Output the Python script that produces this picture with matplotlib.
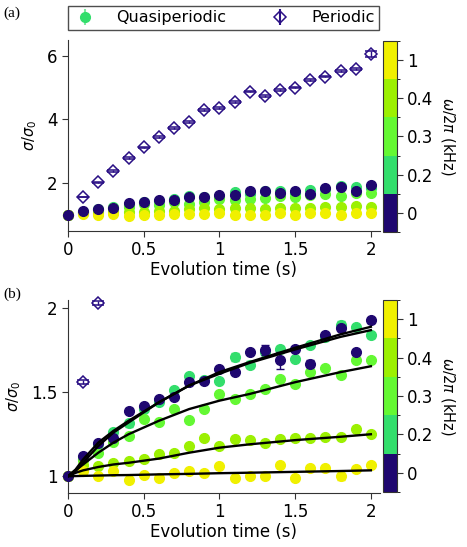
import numpy as np
import matplotlib
matplotlib.use('Agg')
import matplotlib.pyplot as plt
from matplotlib.colors import ListedColormap, BoundaryNorm
from matplotlib.cm import ScalarMappable

plt.rcParams['font.family'] = 'DejaVu Sans'
plt.rcParams['font.size'] = 12
plt.rcParams['mathtext.fontset'] = 'dejavusans'

# evolution times (s)
t = [0.0, 0.1, 0.2, 0.3, 0.4, 0.5, 0.6, 0.7, 0.8, 0.9, 1.0,
     1.1, 1.2, 1.3, 1.4, 1.5, 1.6, 1.7, 1.8, 1.9, 2.0]

# quasiperiodic drive, sigma/sigma0 for each omega/2pi (kHz)
omega_labels = ['0', '0.2', '0.3', '0.4', '1']
colors = ['#1f0770', '#33de6c', '#64f833', '#9cf002', '#f0f000']

sig_w0 = [1.0, 1.12, 1.195, 1.23, 1.39, 1.42, 1.46, 1.47, 1.56, 1.565, 1.64,
          1.62, 1.74, 1.75, 1.69, 1.755, 1.67, 1.84, 1.88, 1.74, 1.93]
sig_w02 = [1.0, 1.10, 1.19, 1.264, 1.314, 1.40, 1.44, 1.512, 1.595, 1.571, 1.57,
           1.71, 1.665, 1.74, 1.755, 1.70, 1.78, 1.83, 1.90, 1.89, 1.84]
sig_w03 = [1.0, 1.095, 1.141, 1.204, 1.24, 1.343, 1.32, 1.40, 1.333, 1.40, 1.49,
           1.46, 1.49, 1.52, 1.58, 1.55, 1.62, 1.645, 1.60, 1.69, 1.69]
sig_w04 = [1.0, 1.065, 1.061, 1.081, 1.089, 1.101, 1.131, 1.139, 1.18, 1.23, 1.178,
           1.22, 1.214, 1.195, 1.22, 1.228, 1.225, 1.235, 1.235, 1.284, 1.25]
sig_w1 = [1.0, 1.03, 1.0, 1.03, 0.976, 1.01, 0.99, 1.02, 1.03, 1.02, 1.06,
          0.99, 1.0, 1.0, 1.068, 0.99, 1.05, 1.05, 1.0, 1.045, 1.068]

err_w0 = [0.005, 0.01, 0.01, 0.01, 0.015, 0.01, 0.01, 0.01, 0.01, 0.01, 0.01,
          0.01, 0.01, 0.03, 0.05, 0.01, 0.02, 0.01, 0.015, 0.01, 0.015]
err_w02 = [0.005, 0.01, 0.01, 0.01, 0.02, 0.01, 0.01, 0.015, 0.01, 0.01, 0.01,
           0.025, 0.02, 0.01, 0.02, 0.01, 0.01, 0.01, 0.025, 0.01, 0.015]
err_w03 = [0.005] * 21
err_w04 = [0.005] * 21
err_w1 = [0.005] * 21
err_w1[18] = 0.02

# periodic drive
t_per = [0.1, 0.2, 0.3, 0.4, 0.5, 0.6, 0.7, 0.8, 0.9, 1.0,
         1.1, 1.2, 1.3, 1.4, 1.5, 1.6, 1.7, 1.8, 1.9, 2.0]
sig_per = [1.56, 2.03, 2.38, 2.79, 3.13, 3.45, 3.73, 3.92, 4.30, 4.36,
           4.55, 4.87, 4.74, 4.93, 5.0, 5.24, 5.34, 5.52, 5.59, 6.06]
err_per = [0.012, 0.012, 0.02, 0.02, 0.02, 0.02, 0.02, 0.02, 0.02, 0.02,
           0.02, 0.02, 0.02, 0.02, 0.02, 0.02, 0.02, 0.02, 0.02, 0.1]

# fit curves
t_fit = [0.0, 0.05, 0.1, 0.2, 0.3, 0.4, 0.6, 0.8, 1.0, 1.2, 1.5, 1.8, 2.0]
fit_w0 = [1.0, 1.04, 1.10, 1.20, 1.27, 1.33, 1.44, 1.54, 1.62, 1.68, 1.765, 1.845, 1.89]
fit_w02 = [1.0, 1.03, 1.08, 1.18, 1.26, 1.32, 1.44, 1.54, 1.61, 1.675, 1.755, 1.83, 1.87]
fit_w03 = [1.0, 1.035, 1.07, 1.14, 1.20, 1.25, 1.33, 1.40, 1.45, 1.49, 1.56, 1.62, 1.655]
fit_w04 = [1.0, 1.02, 1.035, 1.055, 1.07, 1.08, 1.105, 1.14, 1.17, 1.19, 1.215, 1.235, 1.25]
fit_w1 = [1.0, 1.001, 1.002, 1.004, 1.006, 1.007, 1.011, 1.014, 1.018, 1.021, 1.026, 1.031, 1.035]

quasi = [sig_w0, sig_w02, sig_w03, sig_w04, sig_w1]
quasi_err = [err_w0, err_w02, err_w03, err_w04, err_w1]
fits = [fit_w0, fit_w02, fit_w03, fit_w04, fit_w1]
draw_order = [1, 2, 3, 4, 0]
per_color = '#2a0f85'

fig = plt.figure(figsize=(4.67, 5.47), dpi=100)
ax_a = fig.add_axes([0.1456, 0.578, 0.668, 0.349])
ax_b = fig.add_axes([0.1456, 0.0987, 0.668, 0.353])
cax_a = fig.add_axes([0.820, 0.576, 0.030, 0.349])
cax_b = fig.add_axes([0.820, 0.1005, 0.030, 0.351])

cmap = ListedColormap(colors)
norm = BoundaryNorm(np.arange(-0.5, 5.5, 1), cmap.N)


def draw_panel(ax, with_fits, ymax):
    for k, i in enumerate(draw_order):
        ax.errorbar(t, quasi[i], yerr=quasi_err[i], fmt='o', ms=7, color=colors[i],
                    ecolor=colors[i], elinewidth=1, capsize=3, zorder=2 + k, clip_on=False)
    # only the periodic points inside the y range are shown
    keep = np.array(sig_per) <= ymax
    ax.errorbar(np.array(t_per)[keep], np.array(sig_per)[keep], yerr=np.array(err_per)[keep],
                fmt='D', ms=6.5, mfc='none', mec=per_color, mew=1.1, ecolor=per_color,
                elinewidth=1, capsize=4.5, zorder=8, clip_on=False)
    if with_fits:
        for f in fits:
            ax.plot(t_fit, f, color='black', lw=1.7, zorder=9)
    ax.set_xlim(0, 2.06)
    ax.set_xticks([0, 0.5, 1, 1.5, 2])
    ax.set_xticklabels(['0', '0.5', '1', '1.5', '2'])
    ax.set_xlabel('Evolution time (s)', labelpad=1)
    ax.set_ylabel(r'$\sigma/\sigma_0$', fontsize=10.5, labelpad=6)
    for s in ['top', 'right']:
        ax.spines[s].set_visible(False)
    for s in ['left', 'bottom']:
        ax.spines[s].set_color('#333333')
    ax.tick_params(direction='out', length=4, color='#333333')


draw_panel(ax_a, False, 6.5)
ax_a.set_ylim(0.5, 6.5)
ax_a.set_yticks([2, 4, 6])

draw_panel(ax_b, True, 2.05)
ax_b.set_ylim(0.9, 2.05)
ax_b.set_yticks([1, 1.5, 2])
ax_b.set_yticklabels(['1', '1.5', '2'])

for cax in [cax_a, cax_b]:
    cb = fig.colorbar(ScalarMappable(norm=norm, cmap=cmap), cax=cax, ticks=range(5))
    cb.ax.set_yticklabels(omega_labels)
    cb.outline.set_edgecolor('#333333')
    cb.ax.tick_params(length=4, color='#333333')
    cb.set_label(r'$\omega/2\pi$ (kHz)', rotation=270, labelpad=17, fontsize=10.5)

fig.text(0.008, 0.975, '(a)', family='Liberation Serif', fontsize=11, va='center')
fig.text(0.008, 0.462, '(b)', family='Liberation Serif', fontsize=11, va='center')

# legend above panel (a)
h_q = ax_a.errorbar([], [], yerr=[], fmt='o', ms=7, color='#33de6c', ecolor='#7fe8a0', capsize=3)
h_p = ax_a.errorbar([], [], yerr=[], fmt='D', ms=6.5, mfc='none', mec=per_color, mew=1.1,
                    ecolor=per_color, capsize=4.5)
leg = fig.legend([h_q, h_p], ['Quasiperiodic', 'Periodic'], ncol=2, loc='lower left',
                 bbox_to_anchor=(0.1456, 0.945, 0.667, 0.048), mode='expand',
                 borderaxespad=0, frameon=True, fancybox=False, edgecolor='#222222',
                 handlelength=1.5, borderpad=0.3, handletextpad=1.2, fontsize=11.5)
leg.get_frame().set_linewidth(1.0)

fig.savefig('out.png', dpi=100)
